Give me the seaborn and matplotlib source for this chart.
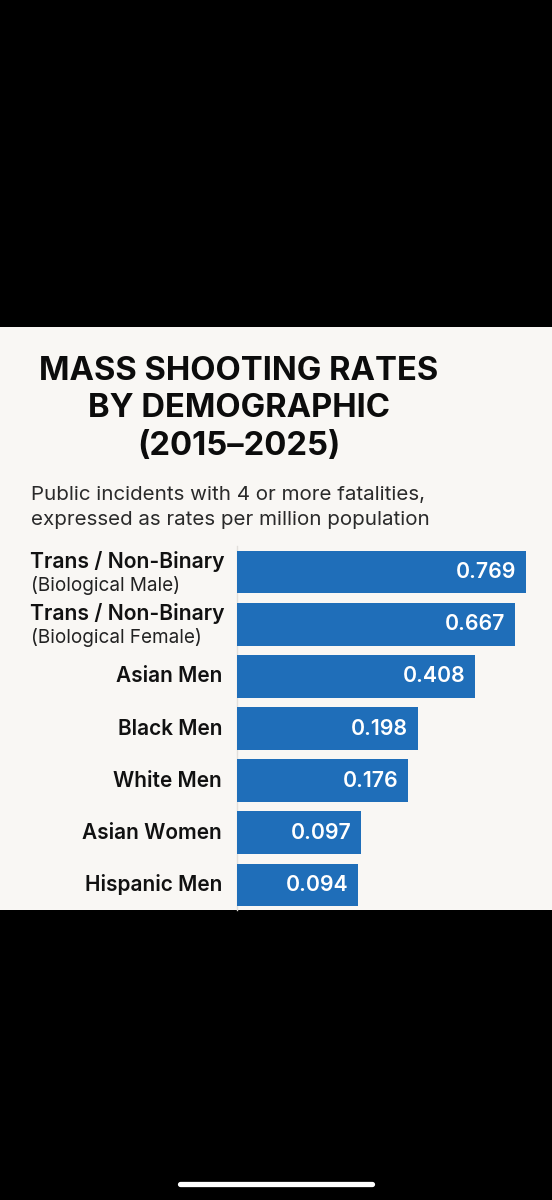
import matplotlib
matplotlib.use("Agg")
import matplotlib.pyplot as plt
from matplotlib.lines import Line2D
from matplotlib.patches import Rectangle
import pandas as pd
import seaborn as sns

# Chart data
groups = ["Trans / Non-Binary", "Trans / Non-Binary", "Asian Men", "Black Men",
          "White Men", "Asian Women", "Hispanic Men"]
group_notes = ["(Biological Male)", "(Biological Female)", "", "", "", "", ""]
rates = [0.769, 0.667, 0.408, 0.198, 0.176, 0.097, 0.094]

TITLE = "MASS SHOOTING RATES\nBY DEMOGRAPHIC\n(2015\u20132025)"
SUBTITLE = "Public incidents with 4 or more fatalities,\nexpressed as rates per million population"

PANEL = "#f9f7f4"
BAR = "#1f6eb9"
W, H = 552, 1200

sns.set_theme(style="white")
plt.rcParams["font.family"] = ["Inter", "DejaVu Sans"]

df = pd.DataFrame({"row": [f"{g} {n}".strip() for g, n in zip(groups, group_notes)],
                   "rate": rates})

fig = plt.figure(figsize=(W / 100, H / 100), dpi=100, facecolor="black")

# light panel of the screenshot
fig.patches.append(Rectangle((0, 1 - 910 / H), 1, (910 - 327) / H,
                             transform=fig.transFigure, facecolor=PANEL,
                             edgecolor="none", zorder=-5))

ax = fig.add_axes([237 / W, 1 - 910 / H, 289 / W, (910 - 546) / H])
ax.set_zorder(2)
ax.set_facecolor(PANEL)
sns.barplot(data=df, x="rate", y="row", orient="h", color=BAR, width=0.82,
            saturation=1, linewidth=0, ax=ax)
# bar lengths in the original are compressed, a log scale mimics that
ax.set_xscale("log")
ax.set_xlim(0.0205, 0.769)
ax.set_ylim(6.48, -0.5)
ax.set_xlabel("")
ax.set_ylabel("")
ax.set_xticks([], minor=False)
ax.set_xticks([], minor=True)
ax.set_yticks([])
for side in ["top", "right", "bottom"]:
    ax.spines[side].set_visible(False)
ax.spines["left"].set_color("#e2dfdb")
ax.spines["left"].set_linewidth(1)
ax.spines["left"].set_zorder(0)

# value labels inside the bars
for i, v in enumerate(rates):
    ax.annotate(f"{v:.3f}", (v, i), xytext=(-7, 0), textcoords="offset points",
                ha="right", va="center", color="white", fontsize=15.3,
                fontweight="semibold")

# category labels
trans = ax.get_yaxis_transform()
for i, (g, n) in enumerate(zip(groups, group_notes)):
    if n:
        ax.text(-13 / 289, i - 0.21, g, transform=trans, ha="right", va="center",
                fontsize=15.2, fontweight="semibold", color="#111111")
        ax.text(-(237 - 31) / 289, i + 0.25, n, transform=trans, ha="left",
                va="center", fontsize=13.6, color="#222222")
    else:
        ax.text(-15 / 289, i, g, transform=trans, ha="right", va="center",
                fontsize=15, fontweight="semibold", color="#111111")

fig.text(239 / W, 1 - 356 / H, TITLE, ha="center", va="top", fontsize=23.6,
         fontweight="bold", color="#0c0c0c", linespacing=1.27)
fig.text(31 / W, 1 - 486 / H, SUBTITLE, ha="left", va="top", fontsize=14.8,
         color="#2a2a2a", linespacing=1.5)

# home indicator of the phone screenshot
fig.lines.append(Line2D([180 / W, 372 / W], [1 - 1184 / H, 1 - 1184 / H],
                        transform=fig.transFigure, color="white", linewidth=3.8,
                        solid_capstyle="round"))

fig.savefig("out.png", dpi=100, facecolor="black")
